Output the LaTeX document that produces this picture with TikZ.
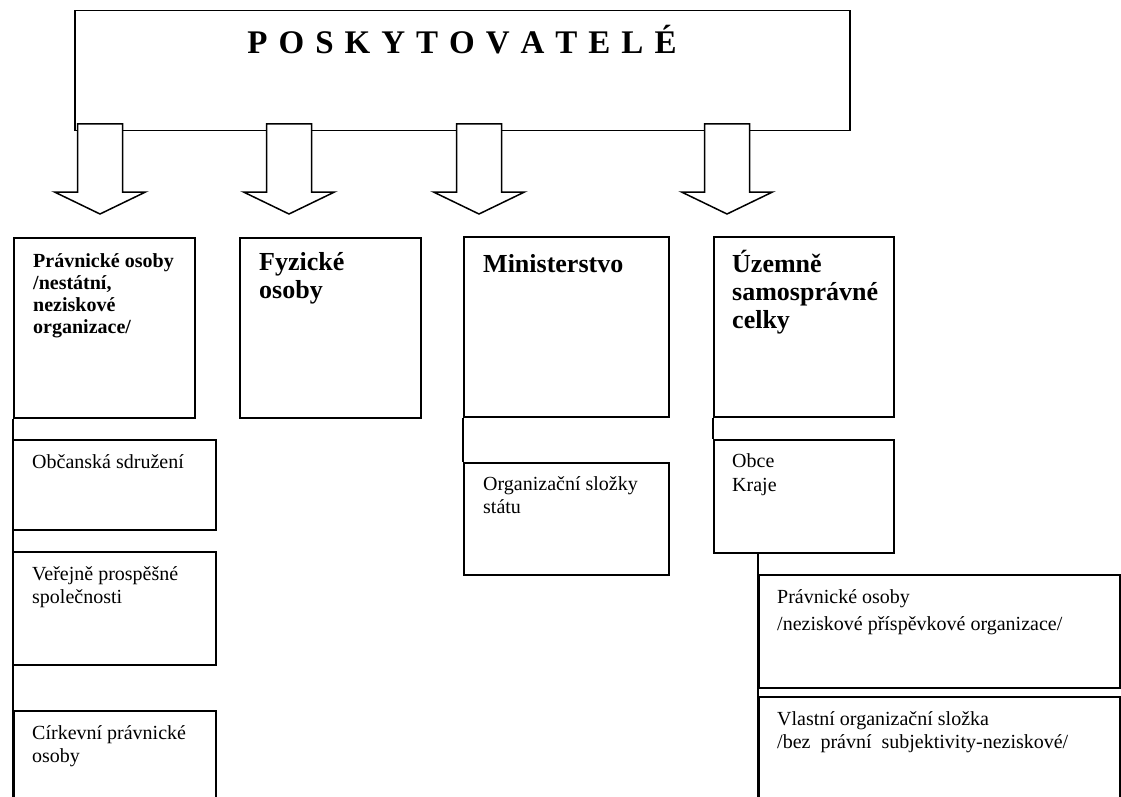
\documentclass[tikz,border=0pt]{standalone}
\usepackage{fontspec}
\setmainfont{Liberation Serif}

\begin{document}
\begin{tikzpicture}[x=1pt, y=-1pt,
  box/.style 2 args={draw, line width=1.5pt, fill=white, inner sep=0pt,
    anchor=north west, minimum width=#1, minimum height=#2},
  link/.style={draw, line width=1.5pt},
  head/.style={anchor=base west, inner sep=0pt, align=left,
    font=\fontsize{20}{22}\selectfont\bfseries},
  bighead/.style={anchor=base west, inner sep=0pt, align=left,
    font=\fontsize{26}{28}\selectfont\bfseries},
  txt/.style={anchor=base west, inner sep=0pt, align=left,
    font=\fontsize{20}{23}\selectfont}]
\useasboundingbox (0,0) rectangle (1121,797);
\clip (0,0) rectangle (1121,797);

% top box
\node[box={775pt}{120pt}] (top) at (74,10) {};
\node[anchor=base, inner sep=0pt, font=\fontsize{33}{40}\selectfont\bfseries]
  (title) at (462,54) {\spaceskip=11pt P O S K Y T O V A T E L É};

% block arrows
\foreach \t in {100,289,479,727}
  \draw[line width=1.5pt, fill=white] (\t-22.5,124) -- ++(45,0) -- ++(0,68)
    -- ++(23,0) -- (\t,214) -- (\t-45.5,192) -- ++(23,0) -- cycle;

% second row (text nodes sit on the baseline of their last line)
\node[box={181pt}{180pt}] (pravo) at (13,237) {};
\node[box={181pt}{180pt}] (fyz) at (239,237) {};
\node[box={205pt}{180pt}] (min) at (463,236) {};
\node[box={180pt}{180pt}] (uzem) at (713,236) {};

\node[head] (pravotxt) at (33,333) {Právnické osoby\\/nestátní,\\neziskové\\organizace/};
\node[bighead] (fyztxt) at (259,298) {Fyzické\\osoby};
\node[bighead] (mintxt) at (483,272) {Ministerstvo};
\node[bighead] (uzemtxt) at (732,328) {Územně\\samosprávné\\celky};

% links
\coordinate (endL) at (13,797);
\coordinate (endR) at (758,797);
\draw[link] (pravo.south west) -- (endL);

% left column
\node[box={203pt}{90pt}] (obcan) at (12,439) {};
\node[box={203pt}{113pt}] (verej) at (12,551) {};
\node[box={202pt}{100pt}] (cirk) at (13,710) {};
\node[txt] (obcantxt) at (32,468) {Občanská sdružení};
\node[txt] (verejtxt) at (32,603) {Veřejně prospěšné\\společnosti};
\node[txt] (cirktxt) at (32,762) {Církevní právnické\\osoby};

% ministerstvo
\node[box={205pt}{112pt}] (org) at (463,462) {};
\node[txt] (orgtxt) at (483,513) {Organizační složky\\státu};
\draw[link] (min.south west) -- (org.north west);

% samosprava
\node[box={180pt}{113pt}] (obce) at (713,439) {};
\node[txt, font=\fontsize{20}{24}\selectfont] (obcetxt) at (732,491) {Obce\\Kraje};
\draw[link] (uzem.south west) -- (obce.north west);

\node[box={361pt}{113pt}] (pravni) at (758,574) {};
\node[box={361pt}{110pt}] (vlast) at (758,696) {};
\draw[link] (pravni.west |- obce.south) -- (endR);
\node[txt, font=\fontsize{20}{27}\selectfont] (pravnitxt) at (777,630)
  {Právnické osoby\\/neziskové příspěvkové organizace/};
\node[txt] (vlasttxt) at (777,748)
  {Vlastní organizační složka\\/bez\ \ právní\ \ subjektivity-neziskové/};
\end{tikzpicture}
\end{document}
